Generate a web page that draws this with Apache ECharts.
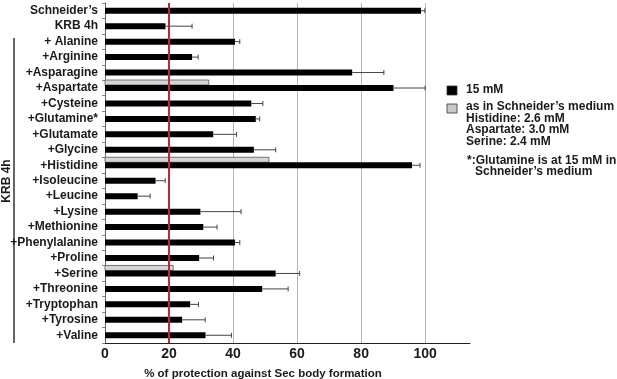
<!DOCTYPE html>
<html>
<head>
<meta charset="utf-8" />
<script src="https://cdn.jsdelivr.net/npm/echarts@6/dist/echarts.min.js"></script>
<style>
  html, body { margin: 0; padding: 0; background: #fff; }
  #chart01 { width: 617px; height: 379px; }
</style>
</head>
<body>
<div id="chart01"></div>
<script>
// 类别
var categories = [
  "Schneider’s", "KRB 4h", "+ Alanine", "+Arginine", "+Asparagine", "+Aspartate",
  "+Cysteine", "+Glutamine*", "+Glutamate", "+Glycine", "+Histidine", "+Isoleucine",
  "+Leucine", "+Lysine", "+Methionine", "+Phenylalanine", "+Proline", "+Serine",
  "+Threonine", "+Tryptophan", "+Tyrosine", "+Valine"
];
// 15 mM
var values15 = [98.7, 18.9, 40.6, 27.2, 77.2, 90.1, 45.7, 47.1, 33.8, 46.5, 95.9, 15.8,
  10.2, 29.8, 30.7, 40.6, 29.4, 53.3, 49.1, 26.6, 24.1, 31.4];
var err15 = [1.2, 8.3, 1.5, 1.9, 9.9, 9.9, 3.6, 1.2, 7.3, 6.8, 2.5, 3.0,
  3.9, 12.7, 4.3, 1.5, 4.5, 7.5, 8.1, 2.6, 7.2, 8.1];
// as in Schneider's medium
var valuesMedium = [null, null, null, null, null, 32.4, null, null, null, null, 51.2, null,
  null, null, null, null, null, 21.3, null, null, null, null];
var xTicks = [0, 20, 40, 60, 80, 100];
var refLine = 20;

var font = "'Liberation Sans', Arial, sans-serif";
var chart = echarts.init(document.getElementById("chart01"));

var errData = values15.map(function (v, i) { return [v, i, err15[i]]; });
var mediumData = [];
valuesMedium.forEach(function (v, i) {
  if (v != null) mediumData.push([v, i]);
});

var option = {
  animation: false,
  textStyle: { fontFamily: font },
  grid: { left: 105, right: 147, top: 3, bottom: 36 },
  xAxis: {
    type: "value",
    min: 0,
    max: 114,
    interval: 20,
    axisLine: { show: true, lineStyle: { color: "#222", width: 1 } },
    axisTick: { show: false },
    axisLabel: {
      color: "#1a1a1a",
      fontWeight: "bold",
      fontSize: 14,
      margin: 4,
      showMaxLabel: false,
      formatter: function (v) { return xTicks.indexOf(v) >= 0 ? String(v) : ""; }
    },
    splitLine: { show: true, showMaxLine: false, lineStyle: { color: "#b5b5b5", width: 1 } }
  },
  yAxis: {
    type: "category",
    data: categories,
    inverse: true,
    axisLine: { show: true, lineStyle: { color: "#666", width: 1 } },
    axisTick: { show: true, length: 3, interval: 0, lineStyle: { color: "#888" } },
    axisLabel: { interval: 0, color: "#1a1a1a", fontWeight: "bold", fontSize: 12, margin: 7 }
  },
  series: [
    {
      // 灰色柱
      type: "custom",
      name: "medium",
      data: mediumData,
      encode: { x: 0, y: 1 },
      z: 2,
      renderItem: function (params, api) {
        var s = api.coord([0, api.value(1)]);
        var e = api.coord([api.value(0), api.value(1)]);
        return {
          type: "rect",
          shape: { x: s[0], y: s[1] - 8, width: e[0] - s[0], height: 5 },
          style: { fill: "#d6d6d6", stroke: "#555", lineWidth: 0.8 }
        };
      }
    },
    {
      type: "bar",
      name: "15 mM",
      data: values15,
      barWidth: 6,
      itemStyle: { color: "#000" },
      z: 3,
      markLine: {
        silent: true,
        symbol: "none",
        label: { show: false },
        lineStyle: { color: "#c1272d", width: 2, type: "solid" },
        data: [{ xAxis: refLine }]
      }
    },
    {
      // 误差线
      type: "custom",
      name: "err",
      data: errData,
      encode: { x: 0, y: 1 },
      z: 4,
      renderItem: function (params, api) {
        var a = api.coord([api.value(0), api.value(1)]);
        var b = api.coord([api.value(0) + api.value(2), api.value(1)]);
        var st = { stroke: "#444", lineWidth: 1 };
        return {
          type: "group",
          children: [
            { type: "line", shape: { x1: a[0], y1: a[1], x2: b[0], y2: b[1] }, style: st },
            { type: "line", shape: { x1: b[0], y1: b[1] - 2.5, x2: b[0], y2: b[1] + 2.5 }, style: st }
          ]
        };
      }
    }
  ],
  graphic: [
    // KRB 4h 括号
    { type: "line", shape: { x1: 14, y1: 38, x2: 14, y2: 343 }, style: { stroke: "#333", lineWidth: 1.5 } },
    {
      type: "text", x: 7, y: 181, rotation: Math.PI / 2,
      style: { text: "KRB 4h", font: "bold 12px " + font, fill: "#1a1a1a", align: "center", verticalAlign: "middle" }
    },
    // 横轴标题
    {
      type: "text", x: 263, y: 374,
      style: { text: "% of protection against Sec body formation", font: "bold 11.5px " + font, fill: "#1a1a1a", align: "center", verticalAlign: "middle" }
    },
    // 图例
    { type: "rect", shape: { x: 447, y: 86, width: 10, height: 9 }, style: { fill: "#000", stroke: "#333", lineWidth: 0.8 } },
    { type: "text", x: 466, y: 90, style: { text: "15 mM", font: "bold 12px " + font, fill: "#1a1a1a", verticalAlign: "middle" } },
    { type: "rect", shape: { x: 447, y: 104, width: 10, height: 9 }, style: { fill: "#c8c8c8", stroke: "#333", lineWidth: 0.8 } },
    {
      type: "text", x: 466, y: 101,
      style: {
        text: "as in Schneider’s medium\nHistidine: 2.6 mM\nAspartate: 3.0 mM\nSerine: 2.4 mM",
        font: "bold 12px " + font, lineHeight: 11.5, fill: "#1a1a1a", verticalAlign: "top"
      }
    },
    {
      type: "text", x: 467, y: 155,
      style: { text: "*:Glutamine is at 15 mM in", font: "bold 12px " + font, fill: "#1a1a1a", verticalAlign: "top" }
    },
    {
      type: "text", x: 475, y: 166,
      style: { text: "Schneider’s medium", font: "bold 12px " + font, fill: "#1a1a1a", verticalAlign: "top" }
    }
  ]
};

chart.setOption(option);
window.addEventListener("resize", function () {
  chart.resize();
});
</script>
</body>
</html>
